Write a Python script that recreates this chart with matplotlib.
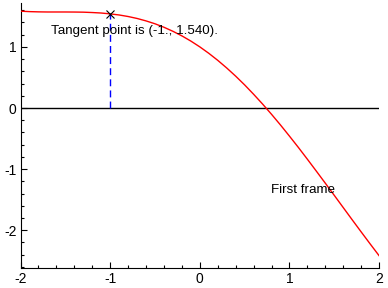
"""Maple-style plot of cos(x) - x with the tangent point marked at x = -1."""
import matplotlib
matplotlib.use("Agg")
import matplotlib.pyplot as plt
from matplotlib.ticker import MultipleLocator

# curve values (x step 0.1)
x_vals = [-2.0, -1.9, -1.8, -1.7, -1.6, -1.5, -1.4, -1.3, -1.2, -1.1, -1.0,
          -0.9, -0.8, -0.7, -0.6, -0.5, -0.4, -0.3, -0.2, -0.1, 0.0,
          0.1, 0.2, 0.3, 0.4, 0.5, 0.6, 0.7, 0.8, 0.9, 1.0,
          1.1, 1.2, 1.3, 1.4, 1.5, 1.6, 1.7, 1.8, 1.9, 2.0]
y_vals = [1.584, 1.577, 1.573, 1.571, 1.571, 1.571, 1.570, 1.568, 1.562, 1.554, 1.540,
          1.522, 1.497, 1.465, 1.425, 1.378, 1.321, 1.255, 1.180, 1.095, 1.000,
          0.895, 0.780, 0.655, 0.521, 0.378, 0.225, 0.065, -0.103, -0.278, -0.460,
          -0.646, -0.838, -1.033, -1.230, -1.429, -1.629, -1.829, -2.027, -2.223, -2.416]
tan_x, tan_y = -1.0, 1.540
label_tan = "Tangent point is (-1., 1.540)."
label_frame = "First frame"

plt.rcParams["font.family"] = ["Liberation Sans", "DejaVu Sans"]
plt.rcParams["axes.unicode_minus"] = False
fig = plt.figure(figsize=(3.88, 2.88), dpi=100)
ax = fig.add_axes([0.053, 0.069, 0.924, 0.921])

ax.axhline(0, color="black", lw=1.0, zorder=1)
ax.plot(x_vals, y_vals, color="red", lw=1.0, zorder=3)
ax.plot([tan_x, tan_x], [0, tan_y], color="blue", lw=1.0, ls=(0, (5, 3)), zorder=2)
ax.plot([tan_x], [tan_y], marker="x", color="black", ms=6, mew=0.8, zorder=4)
ax.text(-1.66, 1.26, label_tan, fontsize=9.6, va="center", ha="left")
ax.text(0.79, -1.34, label_frame, fontsize=9.6, va="center", ha="left")

ax.set_xlim(-2, 2)
ax.set_ylim(-2.62, 1.72)
for s in ("top", "right"):
    ax.spines[s].set_visible(False)
ax.xaxis.set_major_locator(MultipleLocator(1))
ax.xaxis.set_minor_locator(MultipleLocator(0.2))
ax.yaxis.set_major_locator(MultipleLocator(1))
ax.yaxis.set_minor_locator(MultipleLocator(0.2))
ax.tick_params(which="both", direction="in", labelsize=10, width=0.8)
ax.tick_params(which="major", length=4, pad=3)
ax.tick_params(which="minor", length=2)

fig.savefig("out.png", dpi=100)
